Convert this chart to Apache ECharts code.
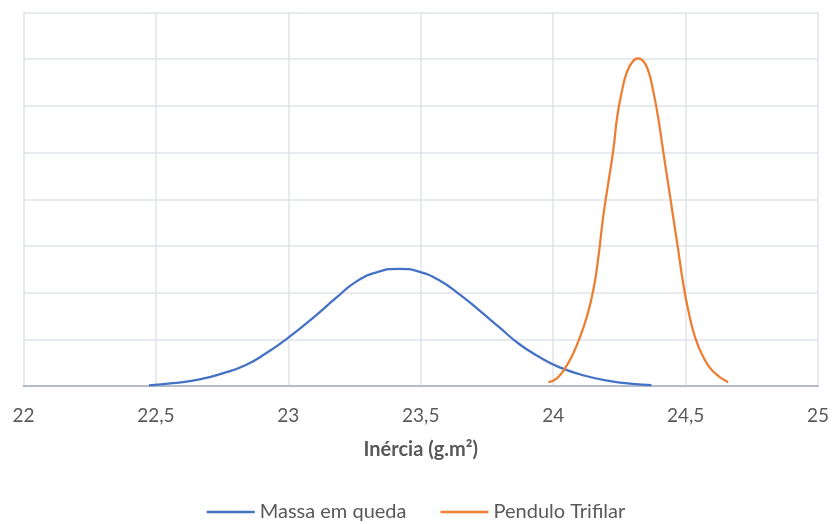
<!DOCTYPE html>
<html>
<head>
<meta charset="utf-8">
<script src="https://cdn.jsdelivr.net/npm/echarts@6/dist/echarts.min.js"></script>
<style>
  html, body { margin: 0; padding: 0; background: #fff; }
  #chart { width: 832px; height: 524px; }
</style>
</head>
<body>
<div id="chart"></div>
<script>
// valores
var massaX = [22.474, 22.564, 22.665, 22.752, 22.840, 22.916, 23.001, 23.091, 23.179, 23.255, 23.342, 23.418, 23.493, 23.568, 23.643, 23.719, 23.794, 23.869, 23.945, 24.020, 24.120, 24.221, 24.300, 24.371];
var massaY = [0.015, 0.06, 0.14, 0.27, 0.45, 0.70, 1.04, 1.45, 1.88, 2.23, 2.45, 2.51, 2.45, 2.27, 1.98, 1.63, 1.27, 0.91, 0.63, 0.41, 0.22, 0.10, 0.045, 0.02];

var pendX = [23.982, 24.014, 24.045, 24.076, 24.102, 24.127, 24.152, 24.171, 24.189, 24.208, 24.227, 24.242, 24.258, 24.277, 24.299, 24.321, 24.343, 24.362, 24.377, 24.396, 24.415, 24.434, 24.453, 24.472, 24.491, 24.510, 24.535, 24.566, 24.604, 24.661];
var pendY = [0.08, 0.165, 0.38, 0.70, 1.06, 1.48, 2.06, 2.77, 3.63, 4.34, 5.05, 5.77, 6.27, 6.70, 6.94, 7.02, 6.94, 6.70, 6.34, 5.77, 5.05, 4.34, 3.63, 2.92, 2.20, 1.63, 1.06, 0.63, 0.31, 0.08];

var seriesNames = ['Massa em queda', 'Pendulo Trifilar'];

function pares(xs, ys) {
    var out = [];
    for (var i = 0; i < xs.length; i++) out.push([xs[i], ys[i]]);
    return out;
}

var myChart = echarts.init(document.getElementById('chart'));

var fonte = 'Lato, "Noto Sans", sans-serif';

var option = {
    animation: false,
    grid: { left: 23.5, right: 11.5, top: 12.5, bottom: 138 },
    legend: {
        data: seriesNames,
        top: 497,
        icon: 'rect',
        itemWidth: 48,
        itemHeight: 2.5,
        itemGap: 34,
        textStyle: { fontFamily: fonte, fontSize: 20, color: '#595959' }
    },
    xAxis: {
        type: 'value',
        min: 22,
        max: 25,
        interval: 0.5,
        name: 'Inércia (g.m²)',
        nameLocation: 'middle',
        nameGap: 54,
        nameTextStyle: { fontFamily: fonte, fontSize: 20, fontWeight: 'bold', color: '#595959' },
        axisLine: { lineStyle: { color: '#b4bccb', width: 2 } },
        axisTick: { show: false },
        axisLabel: {
            margin: 20,
            fontFamily: fonte, fontSize: 19, color: '#595959',
            formatter: function (v) { return String(v).replace('.', ','); }
        },
        splitLine: { lineStyle: { color: '#dfe3ea', width: 1.5 } }
    },
    yAxis: {
        type: 'value',
        min: 0,
        max: 8,
        interval: 1,
        axisLabel: { show: false },
        axisLine: { show: false },
        axisTick: { show: false },
        splitLine: { lineStyle: { color: '#dfe3ea', width: 1.5 } }
    },
    series: [{
        name: seriesNames[0],
        type: 'line',
        smooth: true,
        showSymbol: false,
        data: pares(massaX, massaY),
        lineStyle: { color: '#4472C4', width: 2.25 },
        itemStyle: { color: '#4472C4' }
    }, {
        name: seriesNames[1],
        type: 'line',
        smooth: true,
        showSymbol: false,
        data: pares(pendX, pendY),
        lineStyle: { color: '#ED7D31', width: 2.25 },
        itemStyle: { color: '#ED7D31' }
    }]
};
myChart.setOption(option);
</script>
</body>
</html>
